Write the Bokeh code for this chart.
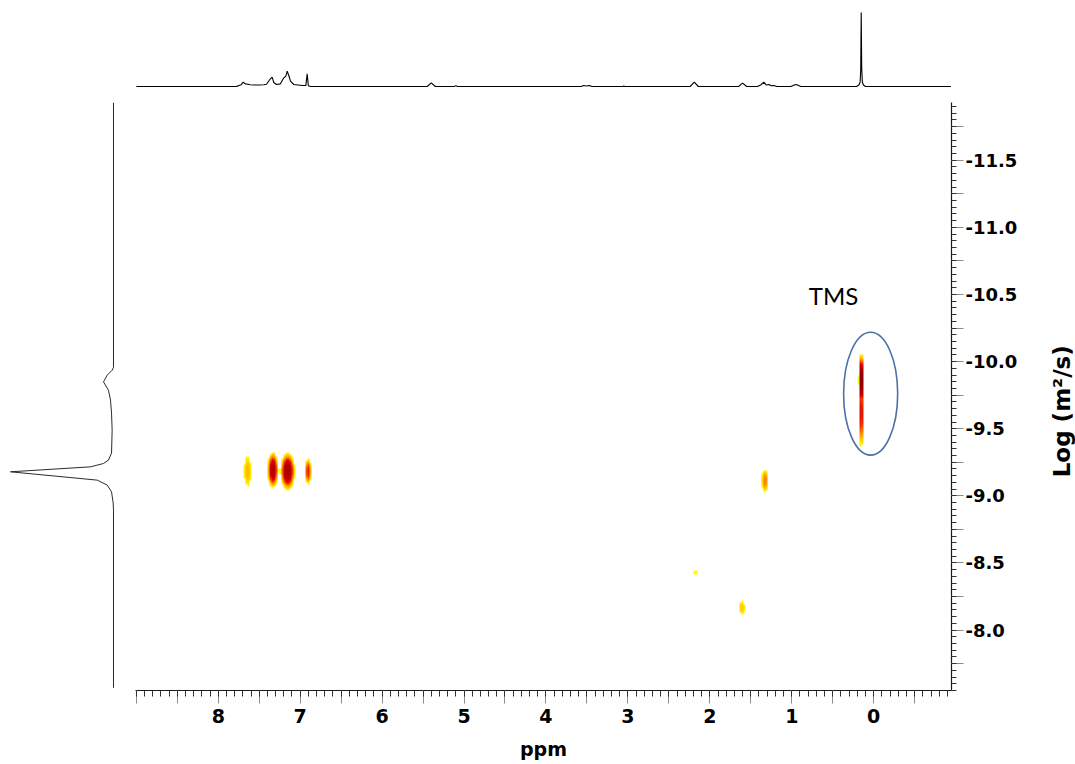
import numpy as np
from bokeh.plotting import figure
from bokeh.layouts import column, row
from bokeh.models import Range1d, FixedTicker, LinearColorMapper, Spacer
from bokeh.core.properties import value
from bokeh.embed import file_html
from bokeh.resources import INLINE

# ---- 1H projection (chemical shift, intensity with TMS = 100) ----
h1_ppm = [9.00, 7.78, 7.75, 7.72, 7.696, 7.668, 7.64, 7.61, 7.55, 7.50,
          7.444, 7.411, 7.363, 7.342, 7.322, 7.289, 7.241, 7.20, 7.175, 7.159,
          7.139, 7.118, 7.078, 6.976, 6.93, 6.915, 6.90, 6.874, 5.45, 5.40,
          5.35, 5.12, 5.10, 5.08, 3.57, 3.54, 3.51, 3.47, 3.44, 3.06,
          3.05, 3.04, 2.24, 2.19, 2.14, 1.65, 1.60, 1.55, 1.42, 1.38,
          1.34, 1.31, 1.28, 1.25, 1.22, 1.18, 1.01, 0.97, 0.95, 0.93,
          0.89, 0.21, 0.18, 0.165, 0.158, 0.152, 0.146, 0.138, 0.125, 0.10,
          -0.95]
h1_int = [0, 0, 1.2, 2.5, 5.8, 3.6, 3.0, 2.3, 2.0, 2.0,
          2.3, 3.0, 10.4, 12.6, 5.4, 2.7, 3.6, 11.7, 14.0, 20.7,
          14.9, 7.2, 2.7, 1.4, 1.5, 17.1, 1.0, 0, 0, 5.0,
          0, 0, 1.2, 0, 0, 1.3, 0.6, 1.3, 0, 0,
          0.7, 0, 0, 5.8, 0, 0, 4.5, 0, 0, 2.0,
          5.8, 2.0, 2.7, 1.0, 1.3, 0, 0, 2.0, 2.7, 2.0,
          0, 0, 2.0, 6.0, 23.0, 100.0, 25.0, 6.0, 2.0, 0,
          0]

# ---- diffusion projection (log D, intensity with maximum = 100) ----
diff_logd = [-11.93, -9.958, -9.936, -9.899, -9.849, -9.787, -9.713, -9.616, -9.489, -9.318,
             -9.266, -9.241, -9.216, -9.179, -9.117, -9.080, -9.030, -8.946, -8.893, -7.57]
diff_int = [0, 0, 1.3, 6.1, 9.7, 4.9, 2.9, 1.9, 1.3, 1.9,
            4.9, 9.7, 22.3, 100.0, 15.8, 6.1, 1.9, 0.3, 0, 0]

# ---- DOSY cross peaks: shift, log D, half extents at the lowest level, relative height ----
peak_ppm = [7.65, 7.34, 7.16, 6.91, 0.14, 0.14, 1.32, 2.17, 1.60]
peak_logd = [-9.18, -9.19, -9.18, -9.18, -9.86, -9.62, -9.11, -8.43, -8.16]
peak_half_ppm = [0.045, 0.068, 0.090, 0.040, 0.036, 0.032, 0.040, 0.013, 0.035]
peak_half_logd = [0.11, 0.135, 0.14, 0.095, 0.21, 0.27, 0.085, 0.045, 0.05]
peak_height = [0.26, 0.72, 0.78, 0.50, 1.0, 0.56, 0.36, 0.15, 0.24]

# ---- axis ticks ----
x_ticks = [8, 7, 6, 5, 4, 3, 2, 1, 0]
x_tick_labels = ["8", "7", "6", "5", "4", "3", "2", "1", "0"]
y_ticks = [-11.5, -11.0, -10.5, -10.0, -9.5, -9.0, -8.5, -8.0]
y_tick_labels = ["-11.5", "-11.0", "-10.5", "-10.0", "-9.5", "-9.0", "-8.5", "-8.0"]

# ---- frame geometry ----
X_LEFT, X_RIGHT = 9.01, -0.95
Y_BOTTOM, Y_TOP = -7.55, -11.93
FLOOR = 0.12      # lowest plotted level
EDGE_POWER = 3.0  # flattened peak profile: steep edges, broad cores

xr = Range1d(start=X_LEFT, end=X_RIGHT)
yr = Range1d(start=Y_BOTTOM, end=Y_TOP)

LABEL_FONT = "DejaVu Sans"

# ================= main 2D map =================
main = figure(width=900, height=669, x_range=xr, y_range=yr,
              y_axis_location="right", toolbar_location=None, output_backend="svg",
              min_border_left=0, min_border_right=84, min_border_top=7, min_border_bottom=74,
              outline_line_color=None, background_fill_color="white")
main.grid.visible = False

# heat map built from the peak table
nx, ny = 408, 294
gx = np.linspace(X_RIGHT, X_LEFT, nx)
gy = np.linspace(Y_TOP, Y_BOTTOM, ny)
GX, GY = np.meshgrid(gx, gy)
z = np.zeros_like(GX)
for p, d, hp, hd, a in zip(peak_ppm, peak_logd, peak_half_ppm, peak_half_logd, peak_height):
    r = np.sqrt(((GX - p) / hp) ** 2 + ((GY - d) / hd) ** 2)
    z = np.maximum(z, a * (FLOOR / a) ** (r ** EDGE_POWER))

stops = [(0.00, (255, 255, 0)), (0.12, (255, 205, 0)), (0.25, (255, 140, 0)),
         (0.38, (245, 50, 0)), (0.50, (215, 0, 0)), (0.75, (170, 0, 0)), (1.00, (120, 0, 0))]
pos = np.array([s[0] for s in stops])
rgb = np.array([s[1] for s in stops], dtype=float)
t = np.linspace(0, 1, 256)
palette = ["#%02x%02x%02x" % tuple(int(round(np.interp(tt, pos, rgb[:, c]))) for c in range(3)) for tt in t]
mapper = LinearColorMapper(palette=palette, low=FLOOR, high=1.0, low_color=(0, 0, 0, 0))

main.image(image=[z], x=X_RIGHT, y=Y_TOP, dw=X_LEFT - X_RIGHT, dh=Y_BOTTOM - Y_TOP,
           color_mapper=mapper)

# TMS annotation
main.ellipse(x=[0.037], y=[-9.761], width=[0.66], height=[0.916],
             fill_color=None, line_color="#4e70a6", line_width=1.6)
main.text(x=[0.49], y=[-10.49], text=["TMS"], text_font=value("Lato"),
          text_font_size="24px", text_align="center", text_baseline="middle",
          text_color="black")

# x axis: ppm
x_major = [round(v * 0.5, 2) for v in range(-1, 19)]
x_minor = [round(v * 0.1, 2) for v in range(-9, 91)]
xa = main.xaxis[0]
xa.ticker = FixedTicker(ticks=x_major, minor_ticks=x_minor)
overrides = {v: "" for v in x_major}
for v, lab in zip(x_ticks, x_tick_labels):
    overrides[float(v)] = lab
xa.major_label_overrides = overrides
xa.axis_label = "ppm"

# y axis: log D (title drawn in its own strip on the right)
y_major = [round(-7.5 - 0.25 * i, 2) for i in range(0, 19)]
y_minor = [round(-7.5 - 0.05 * i, 2) for i in range(0, 90)]
ya = main.yaxis[0]
ya.ticker = FixedTicker(ticks=y_major, minor_ticks=y_minor)
y_over = {v: "" for v in y_major}
for v, lab in zip(y_ticks, y_tick_labels):
    y_over[float(v)] = lab
ya.major_label_overrides = y_over

for ax in (xa, ya):
    ax.axis_line_color = "#1a1a1a"
    ax.axis_line_width = 1.2
    ax.major_tick_line_color = "#8a8a8a"
    ax.minor_tick_line_color = "#333333"
    ax.major_tick_in = 0
    ax.minor_tick_in = 0
    ax.major_label_text_font = LABEL_FONT
    ax.major_label_text_font_style = "bold"
    ax.major_label_text_color = "black"
    ax.axis_label_text_font = LABEL_FONT
    ax.axis_label_text_font_style = "bold"
    ax.axis_label_text_color = "black"

xa.major_tick_out = 13
xa.minor_tick_out = 6
xa.major_label_text_font_size = "19px"
xa.major_label_standoff = 5
xa.axis_label_text_font_size = "19px"
xa.axis_label_standoff = 12

ya.major_tick_out = 12
ya.minor_tick_out = 5
ya.major_label_text_font_size = "18px"
ya.major_label_standoff = 2

# ================= y title strip =================
ytitle = figure(width=40, height=669, x_range=Range1d(0, 40), y_range=yr,
                toolbar_location=None, output_backend="svg",
                min_border_left=0, min_border_right=0, min_border_top=7, min_border_bottom=74,
                outline_line_color=None, x_axis_type=None, y_axis_type=None)
ytitle.text(x=[26], y=[-9.63], text=["Log (m\u00b2/s)"], angle=np.pi / 2,
            text_font=value(LABEL_FONT), text_font_style="bold", text_font_size="23px",
            text_align="center", text_baseline="middle", text_color="black")

# ================= 1H projection on top =================
top = figure(width=816, height=95, x_range=xr, y_range=Range1d(-12.16, 116.2),
             toolbar_location=None, output_backend="svg", min_border=0,
             outline_line_color=None, x_axis_type=None, y_axis_type=None)
top.line(h1_ppm, h1_int, line_color="black", line_width=1.1)

# ================= diffusion projection on the left =================
left = figure(width=135, height=669, x_range=Range1d(109.7, -21.37), y_range=yr,
              toolbar_location=None, output_backend="svg",
              min_border_left=0, min_border_right=0, min_border_top=7, min_border_bottom=74,
              outline_line_color=None, x_axis_type=None, y_axis_type=None)
left.line(diff_int, diff_logd, line_color="#2b2b2b", line_width=1.0)

layout = column(row(Spacer(width=135, height=95), top), row(left, main, ytitle))

open("out.html", "w").write(file_html(layout, INLINE))
